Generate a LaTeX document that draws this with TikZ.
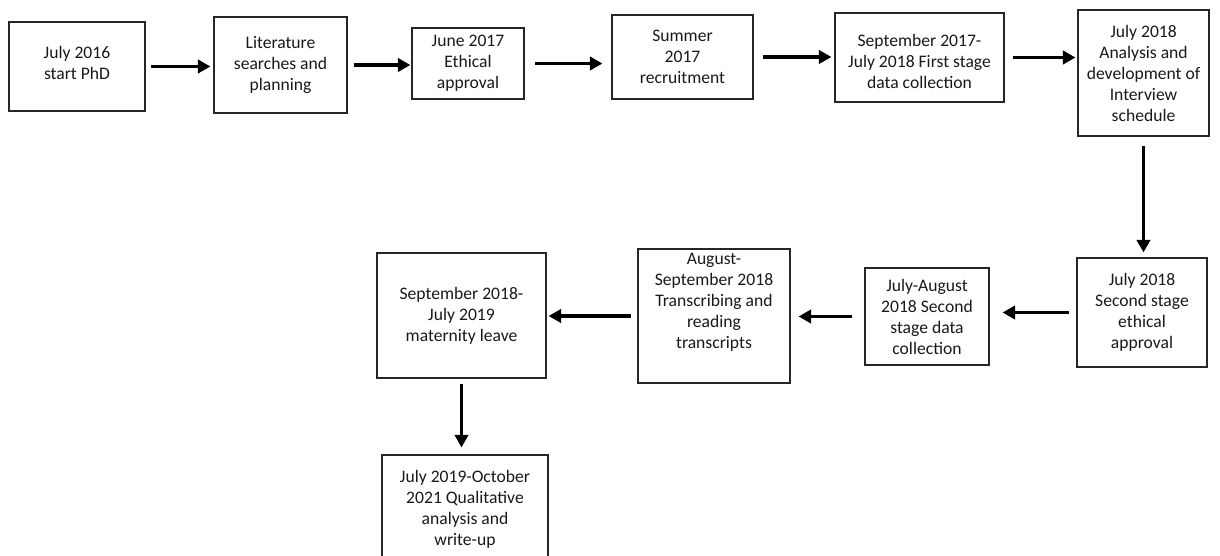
\documentclass[tikz,border=0pt]{standalone}
\usepackage{fontspec}
\setmainfont{Carlito}
\usetikzlibrary{arrows.meta}
\tikzset{
  stage/.style={
      rectangle,
      inner sep=0pt,
      align=center,
      draw=black!85,
      line width=0.8pt,
      text=black!90,
      font=\fontsize{13.2pt}{15.75pt}\selectfont
  },
  flow/.style={
      -{Triangle[length=9.5pt,width=10pt]},
      line width=2.8pt
  }
}
\begin{document}
\begin{tikzpicture}[x=0.75pt,y=-0.75pt]
    \useasboundingbox (0,0) rectangle (1220,556);
    % top row
    \node[stage,minimum width=102pt,minimum height=66.75pt] (start) at (77,66.5) {July 2016\\start PhD\\[-9.75pt]\mbox{}};
    \node[stage,minimum width=99.75pt,minimum height=72pt] (lit) at (280.5,65) {Literature\\searches and\\planning};
    \node[stage,minimum width=84pt,minimum height=53.25pt] (ethics) at (468,63.5) {June 2017\\Ethical\\approval};
    \node[stage,minimum width=105.75pt,minimum height=63pt] (recruit) at (682.5,57) {Summer\\2017\\recruitment};
    \node[stage,minimum width=126.75pt,minimum height=66.75pt] (data) at (919.5,57.5) {\mbox{}\\[-0.75pt]September 2017-\\July 2018 First stage\\data collection};
    \node[stage,minimum width=98.25pt,minimum height=94.5pt] (sched) at (1143.5,73) {July 2018\\Analysis and\\development of\\Interview\\schedule};
    % second row
    \node[stage,minimum width=97.5pt,minimum height=81.75pt] (ethicsb) at (1142,312.5) {July 2018\\Second stage\\ethical\\approval};
    \node[stage,minimum width=93pt,minimum height=72.75pt] (datab) at (927,316.5) {July-August\\2018 Second\\stage data\\collection};
    \node[stage,minimum width=114pt,minimum height=100.5pt] (transcr) at (714,316) {August-\\September 2018\\Transcribing and\\reading\\transcripts\\[6.5pt]\mbox{}};
    \node[stage,minimum width=126.75pt,minimum height=93.75pt] (leave) at (461.5,315.5) {September 2018-\\July 2019\\maternity leave};
    \node[stage,minimum width=124.5pt,minimum height=81pt] (write) at (465,509) {July 2019-October\\2021 Qualitative\\analysis and\\write-up};
    % arrows
    \draw[flow,shorten <=3.75pt,shorten >=2.25pt] (start.east) -- (start.east -| lit.west);
    \draw[flow,shorten <=4.5pt,shorten >=0.75pt] (lit.east) -- (lit.east -| ethics.west);
    \draw[flow,shorten <=7.5pt,shorten >=6.75pt] (ethics.east) -- (ethics.east -| recruit.west);
    \draw[flow,shorten <=6.75pt,shorten >=2.25pt] (recruit.east) -- (recruit.east -| data.west);
    \draw[flow,shorten <=6pt,shorten >=1.5pt] (data.east) -- (data.east -| sched.west);
    \draw[flow,shorten <=6.75pt,shorten >=3.75pt] (sched.south) -- (sched.south |- ethicsb.north);
    \draw[flow,shorten <=5.25pt,shorten >=9.75pt] (ethicsb.west) -- (ethicsb.west -| datab.east);
    \draw[flow,shorten <=9pt,shorten >=6pt] (datab.west) -- (datab.west -| transcr.east);
    \draw[flow,shorten <=4.5pt,shorten >=1.5pt] (transcr.west) -- (transcr.west -| leave.east);
    \draw[flow,shorten <=3.75pt,shorten >=5.25pt] (leave.south) -- (leave.south |- write.north);
\end{tikzpicture}
\end{document}
